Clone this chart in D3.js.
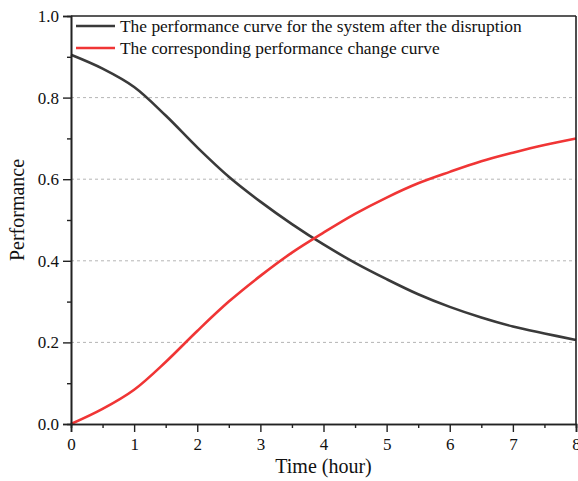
<!DOCTYPE html>
<html>
<head>
<meta charset="utf-8">
<script src="https://cdn.jsdelivr.net/npm/d3@7"></script>
<style>
  html, body { margin: 0; padding: 0; background: #fff; }
  svg { display: block; }
  svg text { font-family: "Liberation Serif", "Times New Roman", serif !important; }
</style>
</head>
<body>
<svg id="chart" width="578" height="481"></svg>
<script>
// ---- data ----
const times = [0, 0.5, 1, 1.5, 2, 2.5, 3, 3.5, 4, 4.5, 5, 5.5, 6, 6.5, 7, 7.5, 8];
const performanceAfterDisruption = [0.905, 0.871, 0.826, 0.756, 0.678, 0.606, 0.545, 0.490, 0.440, 0.395, 0.355, 0.318, 0.287, 0.261, 0.239, 0.222, 0.206];
const performanceChange = [0.000, 0.037, 0.084, 0.152, 0.228, 0.300, 0.363, 0.420, 0.469, 0.515, 0.555, 0.590, 0.618, 0.644, 0.665, 0.684, 0.700];
const seriesNames = [
  "The performance curve for the system after the disruption",
  "The corresponding performance change curve"
];
const seriesColors = ["#3a3a3a", "#f03535"];
const xTicks = [0, 1, 2, 3, 4, 5, 6, 7, 8];
const xMinorTicks = [0.5, 1.5, 2.5, 3.5, 4.5, 5.5, 6.5, 7.5];
const yTicks = [0, 0.2, 0.4, 0.6, 0.8, 1.0];
const yMinorTicks = [0.1, 0.3, 0.5, 0.7, 0.9];
const yGrid = [0.2, 0.4, 0.6, 0.8];

// ---- layout ----
const W = 578, H = 481;
const m = { left: 71, right: 2, top: 16, bottom: 57 };
const iw = W - m.left - m.right, ih = H - m.top - m.bottom;
const serif = '"Liberation Serif", "Times New Roman", serif';

const svg = d3.select("#chart");
const g = svg.append("g").attr("transform", `translate(${m.left},${m.top})`);

const x = d3.scaleLinear().domain([0, 8]).range([0, iw]);
const y = d3.scaleLinear().domain([0, 1]).range([ih, 0]);

// grid
g.append("g").selectAll("line").data(yGrid).join("line")
  .attr("x1", 0).attr("x2", iw)
  .attr("y1", d => y(d)).attr("y2", d => y(d))
  .attr("stroke", "#b5b5b5").attr("stroke-width", 1)
  .attr("stroke-dasharray", "3,3");

// curves
const seriesData = [performanceAfterDisruption, performanceChange];
const line = d3.line().x(d => x(d[0])).y(d => y(d[1])).curve(d3.curveCatmullRom.alpha(0.5));
seriesData.forEach((vals, i) => {
  g.append("path")
    .datum(times.map((t, j) => [t, vals[j]]))
    .attr("d", line)
    .attr("fill", "none")
    .attr("stroke", seriesColors[i])
    .attr("stroke-width", 2.6);
});

// axes
const axisColor = "#222";
const xAxis = g.append("g").attr("transform", `translate(0,${ih})`)
  .call(d3.axisBottom(x).tickValues(xTicks).tickFormat(d3.format("d")).tickSize(8).tickPadding(6));
const xMinor = g.append("g").attr("transform", `translate(0,${ih})`)
  .call(d3.axisBottom(x).tickValues(xMinorTicks).tickFormat("").tickSize(4));
const yAxis = g.append("g")
  .call(d3.axisLeft(y).tickValues(yTicks).tickFormat(d3.format(".1f")).tickSize(8).tickPadding(4));
const yMinor = g.append("g")
  .call(d3.axisLeft(y).tickValues(yMinorTicks).tickFormat("").tickSize(4));

[xAxis, xMinor, yAxis, yMinor].forEach(a => {
  a.attr("font-family", serif).attr("font-size", 17);
  a.select(".domain").attr("stroke", axisColor).attr("stroke-width", 1.6);
  a.selectAll(".tick line").attr("stroke", axisColor).attr("stroke-width", 1.4);
  a.selectAll(".tick text").attr("fill", "#111");
});

// top and right borders
g.append("line").attr("x1", 0).attr("x2", iw).attr("y1", 0).attr("y2", 0)
  .attr("stroke", axisColor).attr("stroke-width", 1.6);
g.append("line").attr("x1", iw).attr("x2", iw).attr("y1", 0).attr("y2", ih)
  .attr("stroke", axisColor).attr("stroke-width", 1.6);

// axis titles
svg.append("text")
  .attr("x", m.left + iw / 2).attr("y", 473)
  .attr("text-anchor", "middle")
  .attr("font-family", serif).attr("font-size", 20).attr("fill", "#111")
  .text("Time (hour)");
svg.append("text")
  .attr("transform", `translate(24,${m.top + ih / 2 - 10}) rotate(-90)`)
  .attr("text-anchor", "middle")
  .attr("font-family", serif).attr("font-size", 20).attr("fill", "#111")
  .text("Performance");

// legend
const legend = g.append("g").attr("transform", "translate(5,10)");
seriesNames.forEach((name, i) => {
  const row = legend.append("g").attr("transform", `translate(0,${i * 22})`);
  row.append("line").attr("x1", 0).attr("x2", 39).attr("y1", 0).attr("y2", 0)
    .attr("stroke", seriesColors[i]).attr("stroke-width", 2.6);
  row.append("text").attr("x", 44).attr("y", 6)
    .attr("font-family", serif).attr("font-size", 17.4).attr("fill", "#111")
    .text(name);
});
</script>
</body>
</html>
